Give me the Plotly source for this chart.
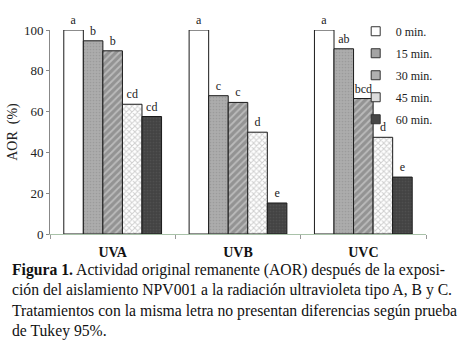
import plotly.graph_objects as go

categories = ["UVA", "UVB", "UVC"]
series_names = ["0 min.", "15 min.", "30 min.", "45 min.", "60 min."]
values_0 = [100, 100, 100]
values_15 = [94.7, 67.8, 90.8]
values_30 = [89.8, 64.5, 66.4]
values_45 = [63.6, 49.9, 47.4]
values_60 = [57.6, 15.2, 27.9]
letters_0 = ["a", "a", "a"]
letters_15 = ["b", "c", "ab"]
letters_30 = ["b", "c", "bcd"]
letters_45 = ["cd", "d", "d"]
letters_60 = ["cd", "e", "e"]
y_ticks = [0, 20, 40, 60, 80, 100]

caption_lines = [
    "<b>Figura 1.</b> Actividad original remanente (AOR) después de la exposi-",
    "ción del aislamiento NPV001 a la radiación ultravioleta tipo A, B y C.",
    "Tratamientos con la misma letra no presentan diferencias según prueba",
    "de Tukey 95%.",
]

FONT = "Liberation Serif"

styles = [
    dict(color="white", legend_color="white", pattern=None),
    dict(color="#a9a9a9", legend_color="#a4a4a4", pattern=dict(shape=".", fgcolor="#8a8a8a", bgcolor="#acacac", size=3, solidity=0.25)),
    dict(color="#9c9c9c", legend_color="#b0b0b0", pattern=dict(shape="/", fgcolor="#e4e4e4", bgcolor="#939393", size=5, solidity=0.35)),
    dict(color="#dddddd", legend_color="#dcdcdc", pattern=dict(shape="x", fgcolor="#a0a0a0", bgcolor="#ffffff", size=4, solidity=0.45)),
    dict(color="#474747", legend_color="#474747", pattern=dict(shape=".", fgcolor="#5c5c5c", bgcolor="#434343", size=3, solidity=0.25)),
]

all_values = [values_0, values_15, values_30, values_45, values_60]
all_letters = [letters_0, letters_15, letters_30, letters_45, letters_60]

fig = go.Figure()
for i, (name, vals, lets, st) in enumerate(zip(series_names, all_values, all_letters, styles)):
    marker = dict(color=st["color"], line=dict(color="#1a1a1a", width=1))
    if st["pattern"] is not None:
        marker["pattern"] = st["pattern"]
    fig.add_trace(go.Bar(
        name=name, x=categories, y=vals, text=lets,
        textposition="outside", cliponaxis=False,
        textfont=dict(family=FONT, size=12, color="#222"),
        marker=marker, legendgroup=name, showlegend=False,
    ))

# legend proxies (small square symbols like the original)
for name, st in zip(series_names, styles):
    fig.add_trace(go.Scatter(
        name=name, x=[None], y=[None], mode="markers",
        marker=dict(symbol="square", size=9, color=st["legend_color"],
                    line=dict(color="#333", width=1)),
        legendgroup=name, showlegend=True, hoverinfo="skip",
    ))

for k, line in enumerate(caption_lines):
    fig.add_annotation(
        text=line, xref="paper", yref="paper",
        x=-0.106, y=(234 - (270 + 20.4 * k)) / 204.5,
        xanchor="left", yanchor="middle", showarrow=False,
        font=dict(family=FONT, size=15.7, color="#111"),
    )

fig.update_layout(
    width=471, height=346,
    margin=dict(l=50, r=45, t=29.5, b=112, autoexpand=False),
    paper_bgcolor="white", plot_bgcolor="white",
    barmode="group", bargap=0.22, bargroupgap=0,
    font=dict(family=FONT, color="#222"),
    legend=dict(
        x=0.813, y=1.065, xanchor="left", yanchor="top",
        font=dict(family=FONT, size=12, color="#222"),
        traceorder="grouped", tracegroupgap=3,
        bgcolor="rgba(0,0,0,0)", itemwidth=30,
    ),
    showlegend=True,
)
fig.update_xaxes(
    showline=True, linecolor="#a9c2a9", linewidth=1,
    ticks="outside", tickson="boundaries", ticklen=4, tickcolor="#999",
    ticklabelstandoff=5,
    tickfont=dict(family=FONT, size=14, color="#111"),
    tickprefix="<b>", ticksuffix="</b>",
    showgrid=False,
)
fig.update_yaxes(
    range=[0, 100], tickvals=y_ticks,
    showline=True, linecolor="#888", linewidth=1,
    ticks="outside", ticklen=3, tickcolor="#888",
    tickfont=dict(family=FONT, size=13, color="#222"),
    title=dict(text="AOR  (%)", font=dict(family=FONT, size=14, color="#222"), standoff=3),
    showgrid=False, zeroline=False,
)

fig.write_html(
    "out.html",
    config={"displayModeBar": False},
    post_script="document.body.style.margin='0';document.body.style.padding='0';",
)
